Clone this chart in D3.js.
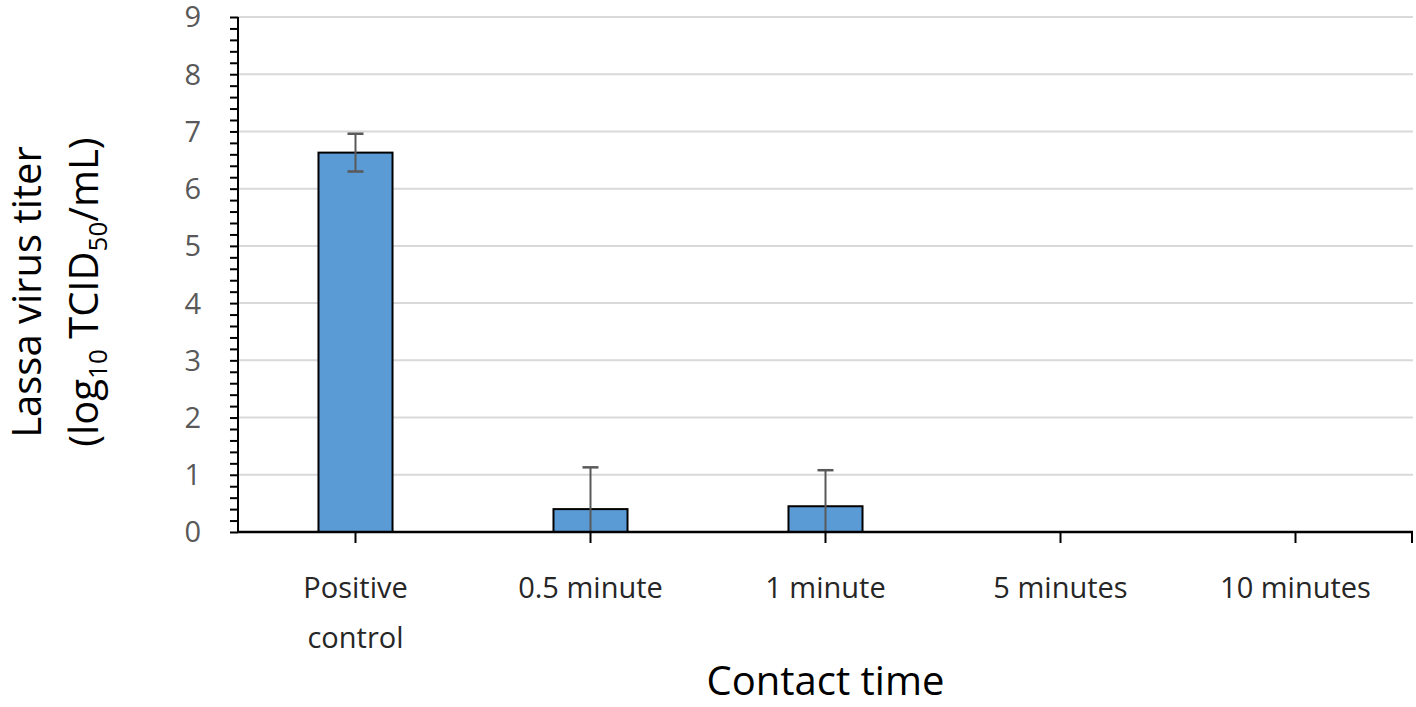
<!DOCTYPE html>
<html>
<head>
<meta charset="utf-8">
<script src="https://cdn.jsdelivr.net/npm/d3@7"></script>
<style>
  body { margin: 0; background: #fff; }
  text { font-family: "Open Sans", sans-serif; }
</style>
</head>
<body>
<div class="canvas"></div>
<script>
// data
const categories = ['Positive control', '0.5 minute', '1 minute', '5 minutes', '10 minutes'];
const titers = [6.63, 0.4, 0.45, 0, 0];
const errors = [0.33, 0.73, 0.63, 0, 0];
const yTicks = [0, 1, 2, 3, 4, 5, 6, 7, 8, 9];

const margin = { top: 17, right: 3, bottom: 175, left: 238 };
const width = 1416, height = 707;
const graphWidth = width - margin.left - margin.right;
const graphHeight = height - margin.top - margin.bottom;

const svg = d3.select('.canvas').append('svg')
  .attr('width', width)
  .attr('height', height);

const graph = svg.append('g')
  .attr('transform', `translate(${margin.left},${margin.top})`);

// scales
const x = d3.scaleBand().domain(categories).range([0, graphWidth]);
const y = d3.scaleLinear().domain([0, 9]).range([graphHeight, 0]);

// gridlines
graph.append('g')
  .selectAll('line')
  .data(yTicks.filter(d => d > 0))
  .enter().append('line')
    .attr('x1', 0)
    .attr('x2', graphWidth)
    .attr('y1', d => y(d))
    .attr('y2', d => y(d))
    .attr('stroke', '#d9d9d9')
    .attr('stroke-width', 2);

// bars
const barW = x.bandwidth() * 0.315;
graph.selectAll('rect')
  .data(categories)
  .enter().append('rect')
    .attr('x', d => x(d) + x.bandwidth() / 2 - barW / 2)
    .attr('width', barW)
    .attr('y', (d, i) => y(titers[i]))
    .attr('height', (d, i) => graphHeight - y(titers[i]))
    .attr('fill', '#5b9bd5')
    .attr('stroke', '#000')
    .attr('stroke-width', 2)
    .style('display', (d, i) => titers[i] > 0 ? null : 'none');

// error bars (clipped at axis)
const errGroup = graph.append('g');
categories.forEach((c, i) => {
  if (errors[i] <= 0) return;
  const cx = x(c) + x.bandwidth() / 2;
  const hi = titers[i] + errors[i];
  const lo = Math.max(0, titers[i] - errors[i]);
  errGroup.append('line')
    .attr('x1', cx).attr('x2', cx)
    .attr('y1', y(hi)).attr('y2', y(lo))
    .attr('stroke', '#595959').attr('stroke-width', 2);
  errGroup.append('line')
    .attr('x1', cx - 8).attr('x2', cx + 8)
    .attr('y1', y(hi)).attr('y2', y(hi))
    .attr('stroke', '#595959').attr('stroke-width', 2.5);
  if (lo > 0) {
    errGroup.append('line')
      .attr('x1', cx - 8).attr('x2', cx + 8)
      .attr('y1', y(lo)).attr('y2', y(lo))
      .attr('stroke', '#595959').attr('stroke-width', 2.5);
  }
});

// y axis with minor ticks
const yAxisGroup = graph.append('g').attr('class', 'y-axis');
yAxisGroup.call(d3.axisLeft(y).tickValues(d3.range(0, 9.01, 0.2)).tickSize(8).tickFormat(''));
yAxisGroup.select('.domain').remove();
yAxisGroup.selectAll('.tick line').attr('stroke', '#000').attr('stroke-width', 2);
yAxisGroup.append('line')
  .attr('x1', 0).attr('x2', 0)
  .attr('y1', 0).attr('y2', graphHeight)
  .attr('stroke', '#000').attr('stroke-width', 2);
yAxisGroup.selectAll('.ylabel')
  .data(yTicks)
  .enter().append('text')
    .attr('x', -37)
    .attr('y', d => y(d))
    .attr('dy', '0.36em')
    .attr('text-anchor', 'end')
    .attr('fill', '#595959')
    .style('font-size', '29px')
    .text(d => d);

// x axis
const xAxisGroup = graph.append('g')
  .attr('class', 'x-axis')
  .attr('transform', `translate(0,${graphHeight})`);
xAxisGroup.call(d3.axisBottom(x).tickSize(11).tickFormat(''));
xAxisGroup.select('.domain').remove();
xAxisGroup.selectAll('.tick line').attr('stroke', '#000').attr('stroke-width', 2);
xAxisGroup.append('line')
  .attr('x1', 0).attr('x2', graphWidth)
  .attr('stroke', '#000').attr('stroke-width', 2.5);
xAxisGroup.append('line')
  .attr('x1', graphWidth - 1).attr('x2', graphWidth - 1)
  .attr('y1', 0).attr('y2', 11)
  .attr('stroke', '#000').attr('stroke-width', 2);

xAxisGroup.selectAll('.xlabel')
  .data(categories)
  .enter().append('text')
    .attr('x', d => x(d) + x.bandwidth() / 2)
    .attr('y', 66)
    .attr('text-anchor', 'middle')
    .attr('fill', '#262626')
    .style('font-size', '29px')
    .each(function(d) {
      const t = d3.select(this);
      const parts = d === 'Positive control' ? ['Positive', 'control'] : [d];
      parts.forEach((p, k) => {
        t.append('tspan')
          .attr('x', x(d) + x.bandwidth() / 2)
          .attr('dy', k === 0 ? 0 : 50)
          .text(p);
      });
    });

// axis titles
svg.append('text')
  .attr('x', margin.left + graphWidth / 2)
  .attr('y', 695)
  .attr('text-anchor', 'middle')
  .attr('fill', '#000')
  .style('font-size', '40px')
  .text('Contact time');

const titleY = 292;
svg.append('text')
  .attr('transform', `translate(41,${titleY}) rotate(-90)`)
  .attr('text-anchor', 'middle')
  .attr('fill', '#000')
  .style('font-size', '40px')
  .text('Lassa virus titer');

// second line with subscripts
const t2 = svg.append('text')
  .attr('transform', `translate(98,${titleY}) rotate(-90)`)
  .attr('text-anchor', 'middle')
  .attr('fill', '#000')
  .style('font-size', '40px');
t2.append('tspan').text('(log');
t2.append('tspan').attr('dy', 9).style('font-size', '26px').text('10');
t2.append('tspan').attr('dy', -9).text(' TCID');
t2.append('tspan').attr('dy', 9).style('font-size', '26px').text('50');
t2.append('tspan').attr('dy', -9).text('/mL)');
</script>
</body>
</html>
